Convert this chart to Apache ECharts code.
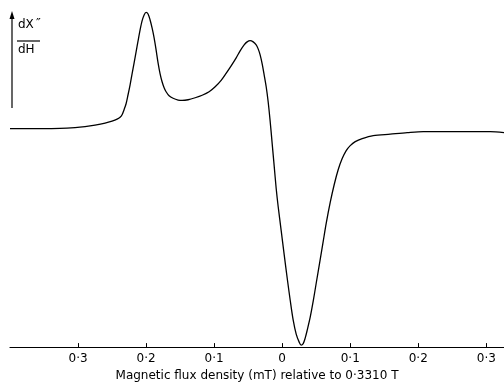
<!DOCTYPE html>
<html>
<head>
<meta charset="utf-8">
<script src="https://cdn.jsdelivr.net/npm/echarts@6/dist/echarts.min.js"></script>
<style>html,body{margin:0;padding:0;background:#fff}#c{width:504px;height:387px}</style>
</head>
<body>
<div id="c"></div>
<script>
// Field offset (mT) relative to 0.3310 T
const fieldX = [-0.4,-0.3559,-0.3265,-0.3044,-0.2897,-0.2750,-0.2603,-0.25,-0.2426,-0.2382,-0.2353,-0.2324,-0.2294,-0.2265,-0.2235,-0.2206,-0.2176,-0.2147,-0.2118,-0.2088,-0.2059,-0.2029,-0.2,-0.1971,-0.1941,-0.1912,-0.1882,-0.1853,-0.1824,-0.1794,-0.1765,-0.1735,-0.1706,-0.1662,-0.1603,-0.1529,-0.1471,-0.1382,-0.1279,-0.1176,-0.1074,-0.0985,-0.0897,-0.0824,-0.0750,-0.0676,-0.0618,-0.0559,-0.0515,-0.0471,-0.0426,-0.0382,-0.0353,-0.0324,-0.0294,-0.0265,-0.0235,-0.0206,-0.0176,-0.0147,-0.0118,-0.0088,-0.0059,-0.0015,0.0029,0.0074,0.0118,0.0162,0.0206,0.025,0.0279,0.0309,0.0338,0.0368,0.0412,0.0456,0.05,0.0559,0.0603,0.0647,0.0706,0.0765,0.0824,0.0882,0.0941,0.1,0.1074,0.1176,0.1338,0.1588,0.1838,0.2074,0.2471,0.2838,0.3059,0.3265];
// dX''/dH (arbitrary units)
const signalY = [0,0,0.2,1,2,3.5,5.5,7.5,9.5,11.5,14,19,25,34,44,55,66,77,88,99,108,114,116.5,115,109,101,91,79,66,55,47,41,37,33,30.5,28.7,28.3,29,31,33.5,37,42,48.5,55.5,63,71,78,84,87,88.3,87,84,80,74,65,54,42,27,7,-15,-37,-60,-78,-102,-126,-150,-172,-192,-206,-214,-217,-215.5,-210,-202,-189,-173,-155,-131,-113,-95,-74,-56,-41,-30,-22,-17,-13,-10,-7,-5.5,-4,-3,-3,-3,-3,-4];
const tickValues = [-0.3,-0.2,-0.1,0,0.1,0.2,0.3];
const tickLabels = ['0·3','0·2','0·1','0','0·1','0·2','0·3'];
const axisTitle = 'Magnetic flux density (mT) relative to 0·3310 T';

const chart = echarts.init(document.getElementById('c'));
const font = 'DejaVu Sans';
chart.setOption({
  animation: false,
  grid: {left: 10, right: 0, top: 0, bottom: 39},
  xAxis: {
    type: 'value', min: -0.4, max: 0.326,
    axisLine: {show: true, onZero: false, lineStyle: {color: '#000', width: 1.2}},
    axisTick: {show: true, inside: true, length: 4, customValues: tickValues, lineStyle: {color: '#000'}},
    axisLabel: {show: true, customValues: tickValues, margin: 6, color: '#000', fontSize: 12, fontFamily: font,
      formatter: function(v){ const i = tickValues.findIndex(t => Math.abs(t - v) < 1e-6); return i >= 0 ? tickLabels[i] : ''; }},
    splitLine: {show: false},
    name: axisTitle, nameLocation: 'middle', nameGap: 22,
    nameTextStyle: {color: '#000', fontSize: 12, fontFamily: font}
  },
  yAxis: {type: 'value', min: -219, max: 129, show: false},
  series: [{
    type: 'line', data: fieldX.map((x, i) => [x, signalY[i]]),
    showSymbol: false, smooth: 0.3,
    lineStyle: {color: '#000', width: 1.3}
  }],
  graphic: [
    {type: 'line', shape: {x1: 12, y1: 108, x2: 12, y2: 16}, style: {stroke: '#000', lineWidth: 1.2}},
    {type: 'polygon', shape: {points: [[12, 11], [9.5, 19], [14.5, 19]]}, style: {fill: '#000'}},
    {type: 'text', left: 18, top: 19, style: {text: 'dX', fontSize: 12, fontFamily: font, fill: '#000'}},
    {type: 'text', left: 36, top: 17, style: {text: '″', fontSize: 13, fontFamily: font, fill: '#000'}},
    {type: 'line', shape: {x1: 17, y1: 41, x2: 40, y2: 41}, style: {stroke: '#000', lineWidth: 1.2}},
    {type: 'text', left: 18, top: 44, style: {text: 'dH', fontSize: 12, fontFamily: font, fill: '#000'}}
  ]
});
</script>
</body>
</html>
